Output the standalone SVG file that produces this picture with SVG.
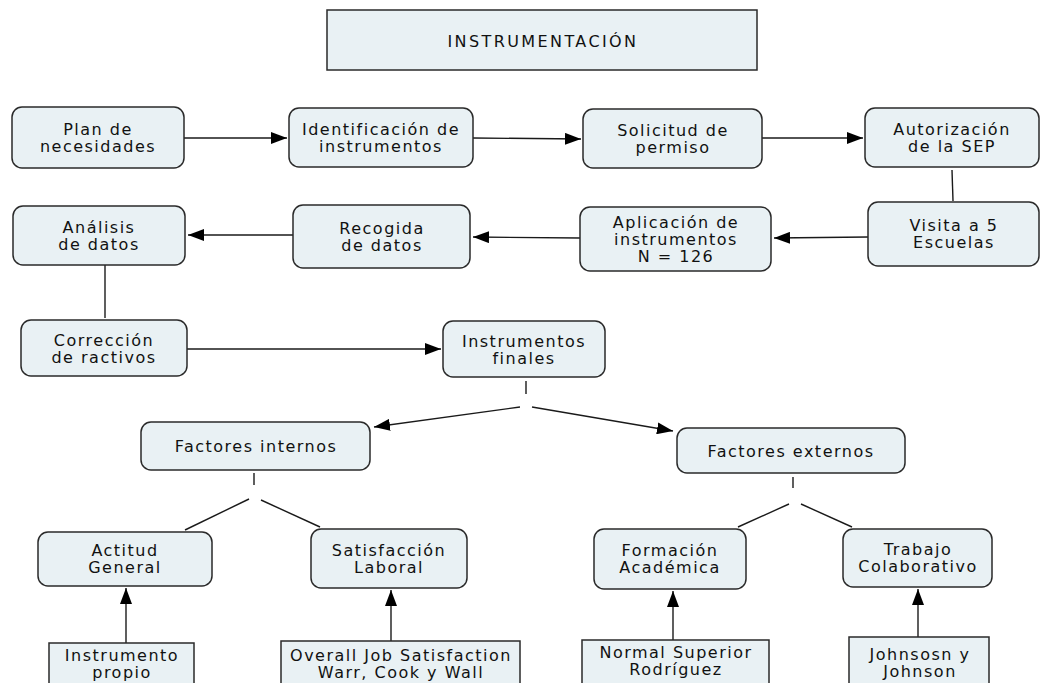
<svg xmlns="http://www.w3.org/2000/svg" width="1041" height="683" viewBox="0 0 1041 683">
<style>
.n{fill:#e9f1f4;stroke:#2a2a2a;stroke-width:1.5}
.t{font-family:"DejaVu Sans",Verdana,sans-serif;font-size:16px;letter-spacing:1.5px;fill:#111;text-anchor:middle}
.ti{letter-spacing:2.4px}
.c{stroke:#1a1a1a;stroke-width:1.4;fill:none}
.a{marker-end:url(#ah)}
</style>
<defs>
<marker id="ah" markerUnits="userSpaceOnUse" markerWidth="16" markerHeight="12" refX="16" refY="6" orient="auto">
<path d="M0,0 L16,6 L0,12 z" fill="#000"/>
</marker>
</defs>
<rect width="1041" height="683" fill="#fff"/>
<g id="connectors">
<line class="c a" x1="184" y1="138" x2="287" y2="138"/>
<line class="c a" x1="473" y1="138" x2="581" y2="139"/>
<line class="c a" x1="762" y1="138" x2="863" y2="138"/>
<line class="c" x1="952" y1="170" x2="953" y2="201"/>
<line class="c a" x1="868" y1="237" x2="774" y2="238"/>
<line class="c a" x1="580" y1="238" x2="473" y2="237"/>
<line class="c a" x1="293" y1="235" x2="188" y2="235"/>
<line class="c" x1="105" y1="265" x2="105" y2="318"/>
<line class="c a" x1="187" y1="349" x2="441" y2="349"/>
<line class="c" x1="526" y1="381" x2="526" y2="394"/>
<line class="c a" x1="520" y1="407" x2="374" y2="427"/>
<line class="c a" x1="532" y1="407" x2="673" y2="431"/>
<line class="c" x1="254" y1="473" x2="254" y2="485"/>
<line class="c" x1="249" y1="499" x2="185" y2="530"/>
<line class="c" x1="261" y1="500" x2="320" y2="527"/>
<line class="c" x1="793" y1="477" x2="793" y2="488"/>
<line class="c" x1="789" y1="504" x2="738" y2="527"/>
<line class="c" x1="801" y1="504" x2="852" y2="527"/>
<line class="c a" x1="126" y1="643" x2="126" y2="588"/>
<line class="c a" x1="391" y1="641" x2="391" y2="590"/>
<line class="c a" x1="673" y1="640" x2="673" y2="591"/>
<line class="c a" x1="918" y1="637" x2="918" y2="589"/>
</g>
<g id="title">
<rect class="n" x="327" y="10" width="430" height="60"/>
<text class="t ti" x="543" y="47">INSTRUMENTACIÓN</text>
</g>
<g id="plan">
<rect class="n" x="12" y="107" width="172" height="61" rx="10"/>
<text class="t" x="98" y="135">Plan de</text>
<text class="t" x="98" y="152">necesidades</text>
</g>
<g id="identificacion">
<rect class="n" x="289" y="108" width="184" height="59" rx="10"/>
<text class="t" x="381" y="135">Identificación de</text>
<text class="t" x="381" y="152">instrumentos</text>
</g>
<g id="solicitud">
<rect class="n" x="583" y="109" width="179" height="59" rx="10"/>
<text class="t" x="673" y="136">Solicitud de</text>
<text class="t" x="673" y="153">permiso</text>
</g>
<g id="autorizacion">
<rect class="n" x="865" y="108" width="174" height="59" rx="10"/>
<text class="t" x="952" y="135">Autorización</text>
<text class="t" x="952" y="152">de la SEP</text>
</g>
<g id="analisis">
<rect class="n" x="13" y="206" width="172" height="59" rx="10"/>
<text class="t" x="99" y="233">Análisis</text>
<text class="t" x="99" y="250">de datos</text>
</g>
<g id="recogida">
<rect class="n" x="293" y="205" width="177" height="63" rx="10"/>
<text class="t" x="382" y="234">Recogida</text>
<text class="t" x="382" y="251">de datos</text>
</g>
<g id="aplicacion">
<rect class="n" x="580" y="207" width="191" height="64" rx="10"/>
<text class="t" x="676" y="228">Aplicación de</text>
<text class="t" x="676" y="245">instrumentos</text>
<text class="t" x="676" y="262">N = 126</text>
</g>
<g id="visita">
<rect class="n" x="868" y="202" width="171" height="64" rx="10"/>
<text class="t" x="954" y="231">Visita a 5</text>
<text class="t" x="954" y="248">Escuelas</text>
</g>
<g id="correccion">
<rect class="n" x="21" y="320" width="166" height="56" rx="10"/>
<text class="t" x="104" y="346">Corrección</text>
<text class="t" x="104" y="363">de ractivos</text>
</g>
<g id="instrumentos-finales">
<rect class="n" x="443" y="321" width="162" height="56" rx="10"/>
<text class="t" x="524" y="347">Instrumentos</text>
<text class="t" x="524" y="364">finales</text>
</g>
<g id="factores-internos">
<rect class="n" x="141" y="422" width="229" height="48" rx="10"/>
<text class="t" x="256" y="452">Factores internos</text>
</g>
<g id="factores-externos">
<rect class="n" x="677" y="428" width="228" height="45" rx="10"/>
<text class="t" x="791" y="457">Factores externos</text>
</g>
<g id="actitud">
<rect class="n" x="38" y="532" width="174" height="54" rx="10"/>
<text class="t" x="125" y="556">Actitud</text>
<text class="t" x="125" y="573">General</text>
</g>
<g id="satisfaccion">
<rect class="n" x="311" y="529" width="156" height="59" rx="10"/>
<text class="t" x="389" y="556">Satisfacción</text>
<text class="t" x="389" y="573">Laboral</text>
</g>
<g id="formacion">
<rect class="n" x="594" y="529" width="152" height="60" rx="10"/>
<text class="t" x="670" y="556">Formación</text>
<text class="t" x="670" y="573">Académica</text>
</g>
<g id="trabajo">
<rect class="n" x="843" y="529" width="149" height="58" rx="10"/>
<text class="t" x="918" y="555">Trabajo</text>
<text class="t" x="918" y="572">Colaborativo</text>
</g>
<g id="instrumento-propio">
<rect class="n" x="49" y="643" width="145" height="60"/>
<text class="t" x="122" y="661">Instrumento</text>
<text class="t" x="122" y="678">propio</text>
</g>
<g id="overall">
<rect class="n" x="281" y="641" width="239" height="60"/>
<text class="t" x="401" y="661">Overall Job Satisfaction</text>
<text class="t" x="401" y="678">Warr, Cook y Wall</text>
</g>
<g id="normal-superior">
<rect class="n" x="582" y="640" width="187" height="60"/>
<text class="t" x="676" y="658">Normal Superior</text>
<text class="t" x="676" y="675">Rodríguez</text>
</g>
<g id="johnson">
<rect class="n" x="849" y="637" width="140" height="60"/>
<text class="t" x="920" y="660">Johnsosn y</text>
<text class="t" x="920" y="677">Johnson</text>
</g>
</svg>
